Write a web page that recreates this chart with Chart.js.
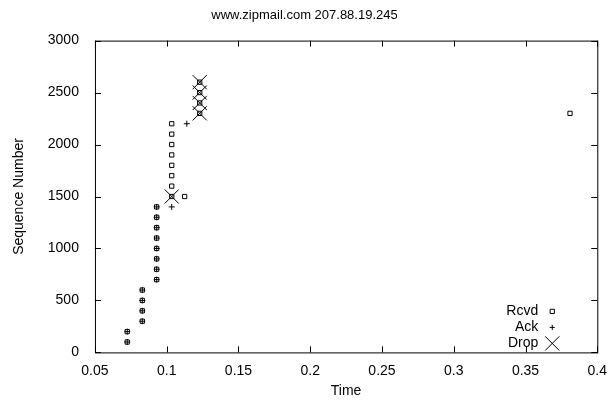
<!DOCTYPE html>
<html>
<head>
<meta charset="utf-8">
<script src="https://cdn.jsdelivr.net/npm/chart.js@4/dist/chart.umd.min.js"></script>
<style>
  html, body { margin: 0; padding: 0; background: #fff; }
  #wrap { width: 609px; height: 407px; }
</style>
</head>
<body>
<div id="wrap"><canvas id="c"></canvas></div>
<script>
  "use strict";

  // Data
  var rcvdX = [0.0725, 0.0725, 0.083, 0.083, 0.083, 0.083, 0.093, 0.093, 0.093, 0.093, 0.093, 0.093, 0.093, 0.093,
    0.1035, 0.1035, 0.1035, 0.1035, 0.1035, 0.1035, 0.1035, 0.1035, 0.1125, 0.123, 0.123, 0.123, 0.123, 0.381];
  var rcvdY = [100, 200, 300, 400, 500, 600, 700, 800, 900, 1000, 1100, 1200, 1300, 1400,
    1500, 1600, 1700, 1800, 1900, 2000, 2100, 2200, 1500, 2300, 2400, 2500, 2600, 2300];
  var ackX = [0.0725, 0.0725, 0.083, 0.083, 0.083, 0.083, 0.093, 0.093, 0.093, 0.093, 0.093, 0.093, 0.093, 0.093, 0.1035, 0.114];
  var ackY = [100, 200, 300, 400, 500, 600, 700, 800, 900, 1000, 1100, 1200, 1300, 1400, 1400, 2200];
  var dropX = [0.1035, 0.123, 0.123, 0.123, 0.123];
  var dropY = [1500, 2300, 2400, 2500, 2600];
  var xTicks = [0.05, 0.1, 0.15, 0.2, 0.25, 0.3, 0.35, 0.4];
  var yTicks = [0, 500, 1000, 1500, 2000, 2500, 3000];

  function pts(xs, ys) {
    return xs.map(function (x, i) { return { x: x, y: ys[i] }; });
  }

  var legendItems = [
    { label: "Rcvd", style: "rect", r: 3 },
    { label: "Ack", style: "cross", r: 2.5 },
    { label: "Drop", style: "crossRot", r: 10 }
  ];

  var fontFamily = "'Liberation Sans', Arial, sans-serif";
  var font = { family: fontFamily, size: 14 };

  var framePlugin = {
    id: "frame",
    afterDraw: function (chart) {
      var ctx = chart.ctx, a = chart.chartArea;
      var xs = chart.scales.x, ys = chart.scales.y;
      ctx.save();
      ctx.strokeStyle = "#000";
      ctx.lineWidth = 1;
      ctx.strokeRect(a.left + 0.5, a.top + 0.5, a.right - a.left, a.bottom - a.top);
      // inward ticks on all four sides
      ctx.beginPath();
      xTicks.forEach(function (v) {
        var p = Math.round(xs.getPixelForValue(v)) + 0.5;
        ctx.moveTo(p, a.bottom); ctx.lineTo(p, a.bottom - 6);
        ctx.moveTo(p, a.top); ctx.lineTo(p, a.top + 6);
      });
      yTicks.forEach(function (v) {
        var p = Math.round(ys.getPixelForValue(v)) + 0.5;
        ctx.moveTo(a.left, p); ctx.lineTo(a.left + 6, p);
        ctx.moveTo(a.right, p); ctx.lineTo(a.right - 6, p);
      });
      ctx.stroke();

      // legend, bottom right inside the plot
      ctx.font = "14px " + fontFamily;
      ctx.textAlign = "right";
      ctx.textBaseline = "middle";
      legendItems.forEach(function (it, i) {
        var y = a.bottom - 41 + i * 16;
        ctx.fillStyle = "#000";
        ctx.fillText(it.label, a.right - 59, y);
        ctx.fillStyle = "rgba(0,0,0,0)";
        Chart.helpers.drawPoint(ctx, { pointStyle: it.style, radius: it.r, rotation: 0, borderWidth: 1 }, a.right - 45, y);
      });
      ctx.restore();
    }
  };

  new Chart(document.getElementById("c"), {
    type: "scatter",
    data: {
      datasets: [
        { label: "Rcvd", data: pts(rcvdX, rcvdY), pointStyle: "rect", pointRadius: 3, borderColor: "#000", backgroundColor: "rgba(0,0,0,0)", borderWidth: 1 },
        { label: "Ack", data: pts(ackX, ackY), pointStyle: "cross", pointRadius: 3, borderColor: "#000", borderWidth: 1 },
        { label: "Drop", data: pts(dropX, dropY), pointStyle: "crossRot", pointRadius: 10, borderColor: "#000", borderWidth: 1 }
      ]
    },
    options: {
      responsive: true,
      maintainAspectRatio: false,
      animation: false,
      layout: { padding: { top: 8, right: 11, left: 11, bottom: 7 } },
      plugins: {
        legend: { display: false },
        tooltip: { enabled: false },
        title: { display: true, text: "www.zipmail.com 207.88.19.245", color: "#000", font: { family: fontFamily, size: 13, weight: "normal" }, padding: { top: 0, bottom: 17 } }
      },
      scales: {
        x: {
          type: "linear", min: 0.05, max: 0.4,
          afterBuildTicks: function (s) { s.ticks = xTicks.map(function (v) { return { value: v }; }); },
          ticks: { color: "#000", font: font, maxRotation: 0, padding: 2, callback: function (v) { return String(Math.round(v * 100) / 100); } },
          grid: { display: false },
          border: { display: false },
          title: { display: true, text: "Time", color: "#000", font: font, padding: { top: 2, bottom: 0 } }
        },
        y: {
          min: 0, max: 3000,
          afterBuildTicks: function (s) { s.ticks = yTicks.map(function (v) { return { value: v }; }); },
          ticks: { color: "#000", font: font, padding: 8, callback: function (v) { return String(v); } },
          grid: { display: false },
          border: { display: false },
          title: { display: true, text: "Sequence Number", color: "#000", font: font, padding: { top: 0, bottom: 12 } }
        }
      }
    },
    plugins: [framePlugin]
  });
</script>
</body>
</html>
